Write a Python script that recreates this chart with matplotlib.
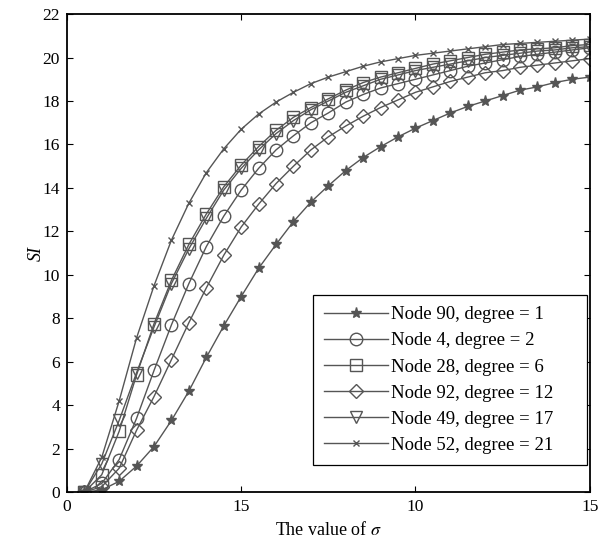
import matplotlib
matplotlib.use('Agg')
import matplotlib.pyplot as plt

plt.rcParams['font.family'] = ['Liberation Serif', 'DejaVu Serif']
plt.rcParams['mathtext.fontset'] = 'stix'

sigma = [0.5, 1.0, 1.5, 2.0, 2.5, 3.0, 3.5, 4.0, 4.5, 5.0,
         5.5, 6.0, 6.5, 7.0, 7.5, 8.0, 8.5, 9.0, 9.5, 10.0,
         10.5, 11.0, 11.5, 12.0, 12.5, 13.0, 13.5, 14.0, 14.5, 15.0]

# SI values
node90 = [0.0, 0.1, 0.5, 1.2, 2.1, 3.3, 4.65, 6.2, 7.65, 9.0,
          10.3, 11.4, 12.45, 13.35, 14.1, 14.8, 15.4, 15.9, 16.35, 16.75,
          17.1, 17.45, 17.75, 18.0, 18.25, 18.5, 18.65, 18.85, 19.0, 19.1]
node4 = [0.0, 0.4, 1.5, 3.4, 5.6, 7.7, 9.6, 11.3, 12.7, 13.9,
         14.9, 15.75, 16.4, 17.0, 17.45, 17.95, 18.3, 18.6, 18.8, 19.0,
         19.2, 19.4, 19.6, 19.75, 19.9, 20.05, 20.15, 20.25, 20.35, 20.45]
node28 = [0.0, 0.8, 2.8, 5.4, 7.75, 9.75, 11.4, 12.8, 14.05, 15.05,
          15.9, 16.65, 17.25, 17.7, 18.1, 18.5, 18.85, 19.1, 19.3, 19.5,
          19.7, 19.85, 20.0, 20.15, 20.25, 20.35, 20.4, 20.45, 20.55, 20.6]
node92 = [0.0, 0.25, 1.1, 2.85, 4.4, 6.1, 7.8, 9.4, 10.9, 12.2,
          13.25, 14.2, 15.0, 15.75, 16.35, 16.85, 17.3, 17.7, 18.05, 18.4,
          18.65, 18.9, 19.1, 19.3, 19.4, 19.55, 19.65, 19.75, 19.85, 19.95]
node49 = [0.0, 1.3, 3.3, 5.5, 7.6, 9.6, 11.2, 12.6, 13.9, 14.9,
          15.75, 16.5, 17.1, 17.6, 18.0, 18.4, 18.7, 19.0, 19.2, 19.4,
          19.55, 19.7, 19.85, 20.0, 20.1, 20.2, 20.3, 20.35, 20.45, 20.5]
node52 = [0.0, 1.6, 4.2, 7.1, 9.5, 11.6, 13.3, 14.7, 15.8, 16.7,
          17.4, 17.95, 18.4, 18.8, 19.1, 19.35, 19.6, 19.8, 19.95, 20.1,
          20.2, 20.3, 20.4, 20.5, 20.6, 20.65, 20.7, 20.75, 20.8, 20.85]

labels = ['Node 90, degree = 1', 'Node 4, degree = 2', 'Node 28, degree = 6',
          'Node 92, degree = 12', 'Node 49, degree = 17', 'Node 52, degree = 21']
xtick_labels = ['0', '15', '10', '15']

gray = '#555555'
fig = plt.figure(figsize=(6.08, 5.42), dpi=100)
ax = fig.add_axes([0.110, 0.092, 0.860, 0.882])

series = [node90, node4, node28, node92, node49, node52]
markers = ['*', 'o', 's', 'D', 'v', 'x']
sizes = [8, 9, 9, 7.5, 9, 5]
for y, m, ms, lab in zip(series, markers, sizes, labels):
    if m in ('*', 'x'):
        ax.plot(sigma, y, color=gray, lw=1.0, marker=m, ms=ms,
                mec=gray, mfc=gray, mew=1.0, label=lab)
    else:
        ax.plot(sigma, y, color=gray, lw=1.0, marker=m, ms=ms,
                mec=gray, mfc='none', mew=1.0, label=lab)

ax.set_xlim(0, 15)
ax.set_ylim(0, 22)
ax.set_xticks([0, 5, 10, 15])
ax.set_xticklabels(xtick_labels)
ax.set_yticks(range(0, 23, 2))
ax.tick_params(direction='in', top=True, right=True, labelsize=12.5, length=4, pad=5)
for s in ax.spines.values():
    s.set_linewidth(1.3)

ax.set_xlabel(r'The value of $\sigma$', fontsize=13)
ax.set_ylabel('SI', fontsize=13, style='italic', labelpad=-2)

leg = ax.legend(loc='lower left', bbox_to_anchor=(0.470, 0.0565, 0.524, 0.36),
                mode='expand', fontsize=13.5, handlelength=3.4, handletextpad=0.2,
                labelspacing=0.48, fancybox=False, edgecolor='black',
                framealpha=1, borderpad=0.6, borderaxespad=0)
leg.get_frame().set_linewidth(0.9)

fig.savefig('out.png', dpi=100)
